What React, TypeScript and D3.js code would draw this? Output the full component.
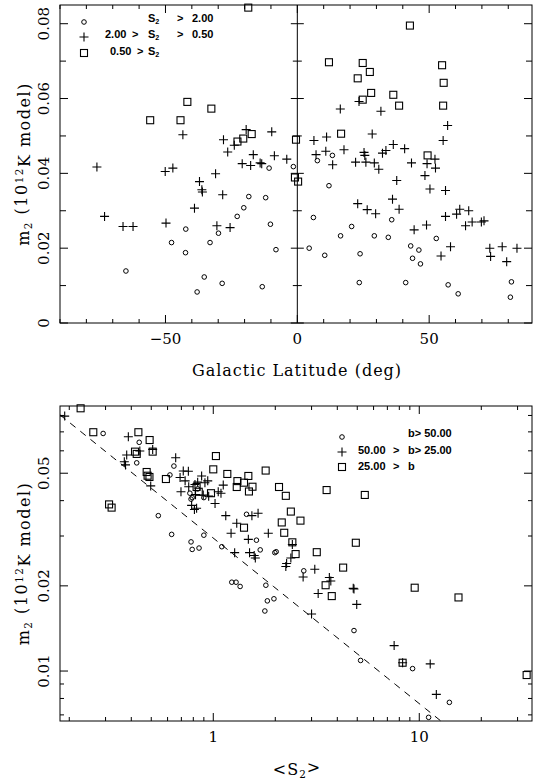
import React from "react";
import * as d3 from "d3";

// ---------- DATA ----------
// Top panel: Galactic latitude (deg) vs m2
const topCircles: [number, number][] = [
  [-18.4, 0.0338], [-12, 0.0335], [-10.7, 0.0414], [-1.5, 0.0418], [-65, 0.0139], [-47.7, 0.0215],
  [-42.3, 0.0251], [-42.4, 0.0188], [-38, 0.0083], [-35.3, 0.0123], [-33.1, 0.0215], [-29.9, 0.024],
  [-28.5, 0.0106], [-22.8, 0.0285], [-20.3, 0.0308], [-10.2, 0.0264], [-8.1, 0.0196], [-13.3, 0.0097],
  [13.3, 0.0448], [7.6, 0.0434], [12, 0.0367], [6.1, 0.0282], [4.5, 0.02], [10.4, 0.0181],
  [16.4, 0.0233], [20.6, 0.0258], [23.8, 0.0185], [23.5, 0.0108], [29.2, 0.0233], [34.5, 0.0229],
  [35.8, 0.0276], [41.1, 0.0108], [43, 0.0206], [46.1, 0.0195], [43.7, 0.0173], [46.7, 0.0158],
  [52.7, 0.0226], [57.2, 0.0102], [61, 0.0078], [81.2, 0.011], [80.8, 0.0069],
];
const topPluses: [number, number][] = [
  [-76, 0.0417], [-50.1, 0.0405], [-47.2, 0.0414], [-43.4, 0.0503], [-37.1, 0.0378], [-36.2, 0.0356],
  [-36, 0.035], [-31, 0.0399], [-28, 0.049], [-26.4, 0.0457], [-23.9, 0.0475], [-19.4, 0.0517],
  [-20.9, 0.0426], [-17.7, 0.0421], [-16.7, 0.045], [-14.1, 0.0428], [-13.5, 0.0426], [-9.7, 0.0511],
  [-8.7, 0.0447], [-4, 0.0438], [-73.1, 0.0285], [-66.1, 0.0258], [-62.3, 0.0258], [-49.8, 0.0267],
  [-39, 0.0307], [-30.5, 0.026], [-28.3, 0.0343], [-25.5, 0.0255], [16.3, 0.0572], [23.4, 0.0592],
  [31.7, 0.0566], [57, 0.0528], [55.3, 0.0488], [6.3, 0.0488], [11.1, 0.0497], [28.4, 0.0505],
  [17.7, 0.0463], [10.8, 0.0459], [7.1, 0.045], [25.3, 0.0456], [25.6, 0.0448], [36.4, 0.0477],
  [33.6, 0.0461], [32.3, 0.0454], [40.7, 0.0466], [52.2, 0.0438], [13.4, 0.0423], [22.1, 0.043],
  [26, 0.043], [29.2, 0.0428], [30.9, 0.0411], [43.3, 0.0428], [49.2, 0.0426], [52.4, 0.0414],
  [48.4, 0.0394], [37.7, 0.0381], [50.3, 0.0358], [56.2, 0.0354], [22.9, 0.0319], [26.5, 0.0303],
  [29.7, 0.0292], [36.1, 0.0331], [38.6, 0.0304], [44.3, 0.0249], [49, 0.0262], [56.2, 0.0285],
  [60.4, 0.0291], [61.6, 0.0304], [65, 0.03], [63.8, 0.026], [66.3, 0.027], [69.8, 0.027],
  [70.8, 0.0273], [58.1, 0.0204], [54.5, 0.0179], [73, 0.02], [73.3, 0.0178], [77.7, 0.0204],
  [79.4, 0.0164], [83.3, 0.02],
];
const topSquares: [number, number][] = [
  [-18.6, 0.0843], [-55.8, 0.0542], [-41.7, 0.0591], [-44.3, 0.0542], [-32.6, 0.0573], [-22.7, 0.0485],
  [-20.5, 0.0493], [-17.3, 0.0505], [-0.5, 0.049], [-0.9, 0.0389], [0.3, 0.0378], [42.7, 0.0795],
  [12, 0.0697], [24.8, 0.0695], [27.5, 0.0671], [22.9, 0.0654], [54.9, 0.0689], [55.5, 0.0642],
  [28, 0.0615], [24.8, 0.0597], [36.4, 0.061], [38.6, 0.0581], [55.3, 0.0581], [16.6, 0.0506],
  [49.4, 0.0448],
];

// Bottom panel: <S2> vs m2
const botCircles: [number, number][] = [
  [0.292, 0.0691], [0.437, 0.0643], [0.425, 0.0544], [0.541, 0.0354], [0.628, 0.0304], [0.616, 0.0493],
  [0.644, 0.053], [0.78, 0.0286], [0.79, 0.0269], [0.853, 0.0272], [0.9, 0.0302], [1.1, 0.0275],
  [1.45, 0.0358], [1.62, 0.029], [1.69, 0.0268], [1.99, 0.0262], [2.02, 0.0264], [2.75, 0.0226],
  [1.23, 0.0206], [1.29, 0.0206], [1.35, 0.0199], [1.8, 0.0201], [1.83, 0.0177], [1.97, 0.018],
  [1.78, 0.0163], [4.82, 0.0139], [5.19, 0.0109], [9.28, 0.0102], [14.0, 0.00775], [11.1, 0.00686],
  [0.77, 0.0425], [0.79, 0.041], [0.84, 0.044], [0.9, 0.041], [0.78, 0.0405],
];
const botPluses: [number, number][] = [
  [0.19, 0.0796], [0.387, 0.0673], [0.38, 0.058], [0.37, 0.0549], [0.375, 0.0535], [0.44, 0.0599],
  [0.508, 0.0607], [0.497, 0.0451], [0.657, 0.0567], [0.715, 0.0509], [0.757, 0.0508], [0.878, 0.0489],
  [0.69, 0.0483], [0.73, 0.047], [0.76, 0.0448], [0.84, 0.0465], [0.94, 0.047], [0.911, 0.0463],
  [0.815, 0.0456], [0.697, 0.043], [0.82, 0.042], [0.894, 0.0419], [0.95, 0.0415], [1.057, 0.043],
  [1.118, 0.0454], [1.09, 0.0425], [1.02, 0.0391], [0.785, 0.0385], [0.81, 0.0372], [0.83, 0.0376],
  [1.15, 0.0354], [1.3, 0.0333], [1.54, 0.0354], [1.65, 0.0361], [1.22, 0.0307], [1.48, 0.0292],
  [1.85, 0.0307], [1.27, 0.0262], [1.5, 0.0262], [1.58, 0.0256], [1.6, 0.0251], [2.38, 0.0251],
  [2.42, 0.028], [2.27, 0.024], [2.25, 0.0234], [2.73, 0.0215], [3.11, 0.0229], [3.66, 0.0214],
  [3.72, 0.0208], [4.78, 0.0196], [3.23, 0.0188], [4.82, 0.0195], [4.97, 0.0172], [3.0, 0.0159],
  [7.55, 0.0123], [8.3, 0.0107], [11.3, 0.0106], [12.1, 0.00827],
];
const botSquares: [number, number][] = [
  [0.227, 0.0848], [0.2616, 0.0698], [0.433, 0.0698], [0.491, 0.0655], [0.417, 0.0596], [0.425, 0.0585],
  [0.508, 0.0596], [0.475, 0.0505], [0.48, 0.049], [0.49, 0.0485], [0.312, 0.0388], [0.321, 0.0378],
  [0.589, 0.0477], [1.03, 0.0575], [1.0, 0.0516], [1.17, 0.0497], [1.796, 0.0511], [0.83, 0.0447],
  [0.85, 0.043], [0.975, 0.0425], [1.31, 0.0469], [1.41, 0.0463], [1.48, 0.0489], [1.55, 0.0448],
  [1.3, 0.0447], [1.49, 0.0431], [2.085, 0.0447], [2.25, 0.0416], [3.55, 0.0436], [5.44, 0.0419],
  [2.15, 0.0335], [1.41, 0.0321], [2.38, 0.0366], [2.65, 0.034], [2.21, 0.0308], [2.42, 0.0285],
  [4.92, 0.0284], [2.51, 0.0259], [3.18, 0.0263], [4.27, 0.0232], [3.51, 0.0201], [3.76, 0.0184],
  [9.5, 0.0197], [15.5, 0.0182], [8.3, 0.0107], [33.2, 0.00968],
];

// Dashed reference line: m2 = A * S^(-k)
const refLineA = 0.0295;
const refLineK = 0.585;

const topLatLabels = [-50, 0, 50];
const topLatTicks = d3.range(-90, 90, 10);
const topMLabels = [0, 0.02, 0.04, 0.06, 0.08];
const topMTicks = d3.range(0, 9).map((i) => i * 0.01);
const botSLabels = [1, 10];
const botSTicks = [0.2, 0.3, 0.4, 0.5, 0.6, 0.7, 0.8, 0.9, 1, 2, 3, 4, 5, 6, 7, 8, 9, 10, 20, 30];
const botMLabels = [0.01, 0.02, 0.05];
const botMTicks = [0.007, 0.008, 0.009, 0.01, 0.02, 0.03, 0.04, 0.05, 0.06, 0.07, 0.08];

// ---------- LAYOUT ----------
const L = 60, R = 532;
const T1 = 5, B1 = 323;
const T2 = 406, B2 = 721;

const serif = "'DejaVu Serif', serif";
const sans = "'Liberation Sans', Arial, sans-serif";

function Marker({ kind, x, y }: { kind: string; x: number; y: number }) {
  if (kind === "o") return <circle cx={x} cy={y} r={2.3} fill="none" stroke="#000" strokeWidth={1} />;
  if (kind === "+")
    return (
      <path d={`M${x - 4.5},${y}H${x + 4.5}M${x},${y - 4.5}V${y + 4.5}`} stroke="#000" strokeWidth={1.1} fill="none" />
    );
  return <rect x={x - 3.5} y={y - 3.5} width={7} height={7} fill="none" stroke="#000" strokeWidth={1.1} />;
}

export default function App() {
  const x1 = d3.scaleLinear().domain([-90, 89]).range([L, R]);
  const y1 = d3.scaleLinear().domain([0, 0.085]).range([B1, T1]);
  const x2 = d3.scaleLog().domain([0.1803, 35.25]).range([L, R]);
  const y2 = d3.scaleLog().domain([0.00666, 0.0864]).range([B2, T2]);

  const isMajor = (v: number, arr: number[]) => arr.some((a) => Math.abs(a - v) < 1e-9);

  const S0 = 0.1803;
  const S1 = Math.pow(refLineA / 0.00666, 1 / refLineK);
  const refPts = d3.range(0, 51).map((i) => S0 * Math.pow(S1 / S0, i / 50));
  const refLine = d3
    .line<number>()
    .x((s) => x2(s))
    .y((s) => y2(refLineA * Math.pow(s, -refLineK)));

  const sub = (t: string) => (
    <tspan fontSize="0.65em" dy="0.3em">{t}</tspan>
  );

  return (
    <svg width={533} height={783} style={{ position: "absolute", left: 0, top: 0 }}>
      <rect width={533} height={783} fill="#fff" />
      {/* ===== TOP PANEL ===== */}
      <g>
        <rect x={L} y={T1} width={R - L} height={B1 - T1} fill="none" stroke="#000" strokeWidth={1} />
        {/* zero line */}
        <line x1={x1(0)} x2={x1(0)} y1={T1} y2={B1} stroke="#000" strokeWidth={1} />
        {topLatTicks.map((v) => {
          const len = isMajor(v, topLatLabels) ? 8 : 4;
          return (
            <g key={"tx" + v}>
              <line x1={x1(v)} x2={x1(v)} y1={B1} y2={B1 - len} stroke="#000" />
              <line x1={x1(v)} x2={x1(v)} y1={T1} y2={T1 + len} stroke="#000" />
            </g>
          );
        })}
        {topMTicks.map((v) => {
          const maj = isMajor(v, topMLabels);
          const len = maj ? 8 : 6;
          const c = maj ? 6.5 : 4.5;
          return (
            <g key={"ty" + v}>
              <line x1={L} x2={L + len} y1={y1(v)} y2={y1(v)} stroke="#000" />
              <line x1={R} x2={R - len} y1={y1(v)} y2={y1(v)} stroke="#000" />
              <line x1={x1(0) - c} x2={x1(0) + c} y1={y1(v)} y2={y1(v)} stroke="#000" />
            </g>
          );
        })}
        {topLatLabels.map((v) => (
          <text key={"lx" + v} x={x1(v)} y={344} textAnchor="middle" fontFamily={serif} fontSize={15}>
            {v < 0 ? "\u2212" + Math.abs(v) : String(v)}
          </text>
        ))}
        {topMLabels.map((v) => (
          <text
            key={"ly" + v}
            transform={`translate(49,${y1(v)}) rotate(-90)`}
            textAnchor="middle"
            fontFamily={serif}
            fontSize={15}
          >
            {v === 0 ? "0" : v.toFixed(2)}
          </text>
        ))}
        <text x={297} y={376} textAnchor="middle" fontFamily={serif} fontSize={16} letterSpacing={1}>
          Galactic Latitude (deg)
        </text>
        <text
          transform={`translate(29,${(T1 + B1) / 2}) rotate(-90)`}
          textAnchor="middle"
          fontFamily={serif}
          fontSize={16}
          letterSpacing={1.5}
        >
          m{sub("2")}
          <tspan dy="-0.3em"> (10</tspan>
          <tspan fontSize="0.65em" dy="-0.45em">12</tspan>
          <tspan dy="0.45em">K model)</tspan>
        </text>
        {topCircles.map((d, i) => <Marker key={"tc" + i} kind="o" x={x1(d[0])} y={y1(d[1])} />)}
        {topPluses.map((d, i) => <Marker key={"tp" + i} kind="+" x={x1(d[0])} y={y1(d[1])} />)}
        {topSquares.map((d, i) => <Marker key={"ts" + i} kind="s" x={x1(d[0])} y={y1(d[1])} />)}
        {/* legend */}
        <g fontFamily={sans} fontSize={11} fontWeight="bold">
          <Marker kind="o" x={84} y={22} />
          <Marker kind="+" x={84} y={37} />
          <Marker kind="s" x={84} y={53} />
          <text x={148} y={22}>S{sub("2")}</text>
          <text x={177} y={22}>&gt;</text>
          <text x={192} y={22}>2.00</text>
          <text x={105} y={38}>2.00</text>
          <text x={132} y={38}>&gt;</text>
          <text x={148} y={38}>S{sub("2")}</text>
          <text x={177} y={38}>&gt;</text>
          <text x={192} y={38}>0.50</text>
          <text x={110} y={55}>0.50</text>
          <text x={137} y={55}>&gt;</text>
          <text x={148} y={55}>S{sub("2")}</text>
        </g>
      </g>

      {/* ===== BOTTOM PANEL ===== */}
      <g>
        <rect x={L} y={T2} width={R - L} height={B2 - T2} fill="none" stroke="#000" strokeWidth={1} />
        {botSTicks.map((v) => {
          const len = isMajor(v, botSLabels) ? 8 : 4;
          return (
            <g key={"bx" + v}>
              <line x1={x2(v)} x2={x2(v)} y1={B2} y2={B2 - len} stroke="#000" />
              <line x1={x2(v)} x2={x2(v)} y1={T2} y2={T2 + len} stroke="#000" />
            </g>
          );
        })}
        {botMTicks.map((v) => {
          const len = isMajor(v, botMLabels) ? 8 : 4;
          return (
            <g key={"by" + v}>
              <line x1={L} x2={L + len} y1={y2(v)} y2={y2(v)} stroke="#000" />
              <line x1={R} x2={R - len} y1={y2(v)} y2={y2(v)} stroke="#000" />
            </g>
          );
        })}
        {botSLabels.map((v) => (
          <text key={"blx" + v} x={x2(v)} y={742} textAnchor="middle" fontFamily={serif} fontSize={15}>
            {String(v)}
          </text>
        ))}
        {botMLabels.map((v) => (
          <text
            key={"bly" + v}
            transform={`translate(49,${y2(v)}) rotate(-90)`}
            textAnchor="middle"
            fontFamily={serif}
            fontSize={15}
          >
            {v.toFixed(2)}
          </text>
        ))}
        <text x={297} y={775} textAnchor="middle" fontFamily={serif} fontSize={16} letterSpacing={1}>
          &lt;S{sub("2")}<tspan dy="-0.3em">&gt;</tspan>
        </text>
        <text
          transform={`translate(29,${(T2 + B2) / 2}) rotate(-90)`}
          textAnchor="middle"
          fontFamily={serif}
          fontSize={16}
          letterSpacing={1.5}
        >
          m{sub("2")}
          <tspan dy="-0.3em"> (10</tspan>
          <tspan fontSize="0.65em" dy="-0.45em">12</tspan>
          <tspan dy="0.45em">K model)</tspan>
        </text>
        <path d={refLine(refPts) || ""} fill="none" stroke="#000" strokeWidth={1} strokeDasharray="7,6" />
        {botCircles.map((d, i) => <Marker key={"bc" + i} kind="o" x={x2(d[0])} y={y2(d[1])} />)}
        {botPluses.map((d, i) => <Marker key={"bp" + i} kind="+" x={x2(d[0])} y={y2(d[1])} />)}
        {botSquares.map((d, i) => <Marker key={"bs" + i} kind="s" x={x2(d[0])} y={y2(d[1])} />)}
        <g fontFamily={sans} fontSize={11} fontWeight="bold">
          <Marker kind="o" x={342} y={437} />
          <Marker kind="+" x={342} y={452} />
          <Marker kind="s" x={342} y={467} />
          <text x={408} y={437}>b&gt; 50.00</text>
          <text x={358} y={454}>50.00</text>
          <text x={393} y={454}>&gt;</text>
          <text x={408} y={454}>b&gt; 25.00</text>
          <text x={358} y={470}>25.00</text>
          <text x={393} y={470}>&gt;</text>
          <text x={408} y={470}>b</text>
        </g>
      </g>
    </svg>
  );
}
